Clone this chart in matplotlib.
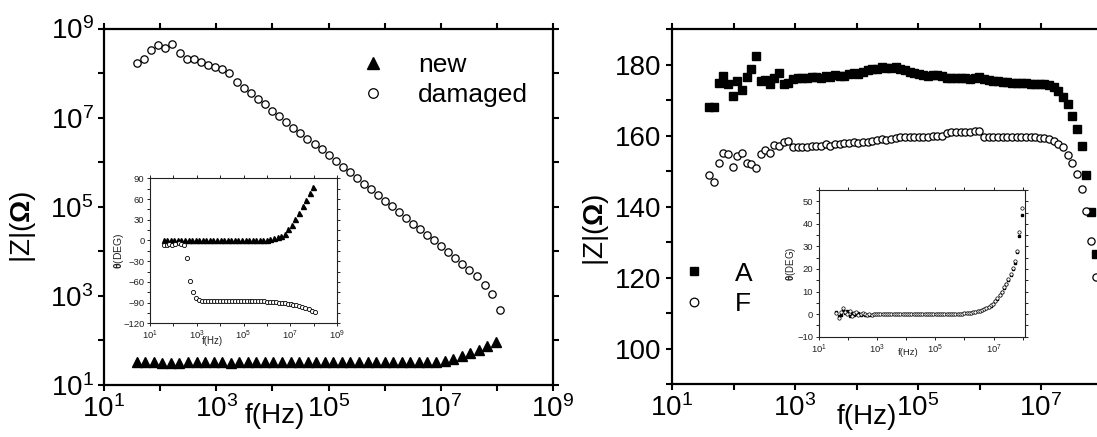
import matplotlib
matplotlib.use("Agg")
import matplotlib.pyplot as plt
from matplotlib.ticker import NullFormatter, FixedLocator, LogFormatterSciNotation

plt.rcParams['font.family'] = ['Liberation Sans', 'DejaVu Sans']
plt.rcParams['mathtext.fontset'] = 'custom'
plt.rcParams['mathtext.rm'] = 'Liberation Sans'
plt.rcParams['mathtext.it'] = 'Liberation Sans:italic'
plt.rcParams['mathtext.bf'] = 'Liberation Sans:bold'

# ---------------- Left panel data ----------------
freq_new = [38, 54, 77, 109, 155, 221, 313, 446, 632, 898,
            1276, 1811, 2570, 3656, 5188, 7379, 10470, 14860, 21130, 29990,
            42660, 60530, 85900, 122200, 173400, 246000, 349900, 496600, 706300, 1.002e6,
            1.422e6, 2.023e6, 2.871e6, 4.074e6, 5.794e6, 8.222e6, 1.169e7, 1.660e7, 2.355e7, 3.350e7,
            4.753e7, 6.745e7, 9.594e7]
z_new = [33.5, 32, 32, 31.5, 31.5, 31.5, 32, 32, 32, 32,
         32, 31.5, 32, 32, 32, 32, 32, 32, 32, 32,
         32, 32, 32, 32, 32, 32, 32, 32, 32, 32,
         32, 32, 32, 32, 32.5, 33, 34.5, 37.7, 44.7, 51,
         61, 75, 94]
phase_new = [0, 0, 0, 0, 0, 0, 0, 0, 0, 0,
             0, 0, 0, 0, 0, 0, 0, 0, 0, 0,
             0, 0, 0, 0, 0, 0, 0.3, 0.5, 0.8, 1.3,
             2.0, 3.0, 4.5, 6.5, 9.5, 16, 23, 31, 40, 50,
             59, 68, 77]

freq_dmg = [38, 51, 68, 91, 121, 166, 222, 296, 395, 527,
            703, 938, 1253, 1720, 2328, 3105, 4142, 5530, 7380, 9840,
            13120, 17530, 23390, 31190, 41600, 57150, 76200, 101800, 135800, 181100,
            241600, 322300, 430500, 574100, 765600, 1.021e6, 1.365e6, 1.820e6, 2.427e6, 3.236e6,
            4.325e6, 5.77e6, 7.69e6, 1.026e7, 1.371e7, 1.828e7, 2.438e7, 3.251e7, 4.335e7, 6.22e7,
            8.30e7, 1.156e8]
z_dmg = [1.64e8, 2.12e8, 3.37e8, 4.23e8, 3.74e8, 4.60e8, 2.84e8, 2.05e8, 2.12e8, 1.78e8,
         1.50e8, 1.38e8, 1.22e8, 1.01e8, 6.34e7, 4.73e7, 3.59e7, 2.59e7, 2.00e7, 1.42e7,
         1.07e7, 8.02e6, 5.98e6, 4.54e6, 3.39e6, 2.53e6, 1.95e6, 1.43e6, 1.07e6, 7.83e5,
         6.04e5, 4.44e5, 3.30e5, 2.47e5, 1.81e5, 1.35e5, 1.02e5, 7.64e4, 5.70e4, 4.18e4,
         3.12e4, 2.29e4, 1.77e4, 1.29e4, 9.66e3, 7.21e3, 5.28e3, 3.87e3, 2.75e3, 1.73e3,
         1.08e3, 473]
phase_dmg = [-6, -6, -5, -6, -5, -4, -5, -6, -25, -59,
             -74, -83, -86, -87, -88, -88, -88, -88, -88, -88,
             -88, -88, -88, -88, -88, -88, -88, -88, -88, -88,
             -88, -88, -88, -88, -88, -88.5, -89, -89, -89.5, -90,
             -90, -91, -92, -92.5, -93, -94, -95, -96, -98, -100,
             -102, -104]

# ---------------- Right panel data ----------------
freq_af = [40.5, 48.2, 57.3, 68.2, 81.3, 96.8, 115, 137, 163, 194,
           231, 275, 327, 390, 464, 553, 658, 783, 933, 1110,
           1321, 1574, 1873, 2230, 2655, 3162, 3758, 4477, 5333, 6339,
           7551, 8995, 10690, 12740, 15170, 18030, 21480, 25590, 30480, 36220,
           43150, 51400, 61090, 72780, 86700, 103300, 122700, 146200, 174200, 207000,
           246600, 293800, 349100, 415900, 495500, 588800, 701500, 835600, 995400, 1.183e6,
           1.409e6, 1.679e6, 1.995e6, 2.377e6, 2.831e6, 3.365e6, 4.009e6, 4.775e6, 5.675e6, 6.761e6,
           8.054e6, 9.572e6, 1.140e7, 1.358e7, 1.614e7, 1.923e7, 2.291e7, 2.729e7, 3.243e7, 3.864e7,
           4.603e7, 5.470e7, 6.516e7, 7.762e7, 9.226e7]
z_a = [168.0, 168.2, 174.8, 176.9, 174.7, 171.2, 175.5, 173.0, 176.6, 178.7,
       182.5, 175.4, 175.7, 174.7, 176.2, 177.6, 174.5, 174.9, 176.0, 176.2,
       176.3, 176.4, 176.5, 176.6, 176.4, 176.9, 176.5, 177.1, 176.8, 176.8,
       177.4, 177.7, 177.4, 178.0, 178.5, 178.7, 178.7, 179.3, 179.0, 179.1,
       179.3, 178.7, 178.5, 178.1, 177.6, 177.4, 177.0, 176.9, 177.0, 177.2,
       176.8, 176.3, 176.2, 176.2, 176.3, 176.2, 176.1, 176.4, 176.6, 175.9,
       175.7, 175.5, 175.3, 175.2, 175.2, 175.0, 174.9, 174.9, 174.9, 174.7,
       174.7, 174.5, 174.5, 174.2, 173.6, 172.6, 171.0, 168.9, 165.5, 161.8,
       157.0, 149.0, 138.5, 126.7]
z_f = [148.9, 147.0, 152.4, 155.2, 154.8, 151.2, 154.3, 155.2, 152.4, 152.0,
       151.0, 154.8, 156.0, 155.1, 157.4, 157.1, 158.2, 158.4, 156.8, 156.8,
       156.8, 156.9, 157.0, 157.1, 157.2, 157.6, 157.2, 157.6, 157.8, 157.9,
       158.0, 158.1, 158.0, 158.1, 158.1, 158.4, 158.7, 159.0, 158.9, 159.2,
       159.4, 159.6, 159.6, 159.6, 159.6, 159.5, 159.6, 159.6, 159.8, 159.8,
       160.0, 160.7, 161.0, 161.0, 161.0, 161.0, 161.0, 161.2, 161.2, 159.5,
       159.5, 159.5, 159.5, 159.5, 159.6, 159.5, 159.5, 159.5, 159.5, 159.5,
       159.5, 159.4, 159.4, 159.2, 158.6, 157.8, 156.9, 154.5, 152.2, 149.3,
       145.1, 138.8, 130.3, 120.1]
phase_a = [1.0, -1.0, -0.5, 2.0, 0.5, 1.5, -1.0, 0.5, -0.5, 0.0,
           0.5, -0.5, 0.0, -0.5, -0.3, -0.2, -0.2, -0.1, 0.0, 0.0,
           0.0, 0.0, 0.0, 0.0, 0.0, 0.0, 0.0, 0.0, 0.0, 0.0,
           0.0, 0.0, 0.0, 0.0, 0.0, 0.0, 0.0, 0.0, 0.0, 0.0,
           0.0, 0.0, 0.0, 0.0, 0.0, 0.0, 0.1, 0.1, 0.1, 0.1,
           0.1, 0.1, 0.1, 0.1, 0.2, 0.2, 0.2, 0.2, 0.3, 0.4,
           0.5, 0.6, 0.8, 1.0, 1.2, 1.5, 1.8, 2.2, 2.6, 3.1,
           3.8, 4.6, 5.6, 6.8, 8.3, 9.8, 11.5, 13.2, 15.0, 17.4,
           20.0, 22.5, 27.5, 34.5, 44.0]
phase_f = [0.5, -1.5, 1.0, 2.5, 1.0, 0.0, 1.5, -1.0, 0.5, 1.0,
           -0.5, 0.0, 0.5, 0.0, -0.5, 0.0, -0.3, -0.1, 0.0, 0.0,
           0.0, 0.0, 0.0, 0.0, 0.0, 0.0, 0.0, 0.0, 0.0, 0.0,
           0.0, 0.0, 0.0, 0.0, 0.0, 0.0, 0.0, 0.0, 0.0, 0.0,
           0.0, 0.0, 0.0, 0.0, 0.0, 0.0, 0.1, 0.1, 0.1, 0.1,
           0.1, 0.1, 0.1, 0.1, 0.2, 0.2, 0.2, 0.2, 0.3, 0.4,
           0.5, 0.7, 0.9, 1.1, 1.3, 1.6, 1.9, 2.3, 2.7, 3.2,
           3.9, 4.7, 5.7, 7.0, 8.5, 10.0, 11.8, 13.5, 15.5, 18.0,
           20.5, 23.5, 28.0, 36.5, 47.0]

assert len(freq_new) == len(z_new) == len(phase_new)
assert len(freq_dmg) == len(z_dmg) == len(phase_dmg)
assert len(z_a) == len(z_f) == 84
assert len(freq_af) == len(phase_a) == len(phase_f) == 85

# tick definitions
odd_decades = [1e1, 1e3, 1e5, 1e7, 1e9]
odd_decades_visible = [1e1, 1e3, 1e5, 1e7]
even_decades = [1e2, 1e4, 1e6, 1e8]

W, H = 1097, 437
fig = plt.figure(figsize=(W / 100, H / 100), dpi=100)


def px_axes(x0, y0, x1, y1):
    return fig.add_axes([x0 / W, 1 - y1 / H, (x1 - x0) / W, (y1 - y0) / H])


def style_main(ax):
    for s in ax.spines.values():
        s.set_linewidth(1.6)
    ax.tick_params(which='both', direction='out', width=1.5, top=True, right=True,
                   labelsize=20, colors='black')
    ax.tick_params(which='major', length=4.5, pad=3)
    ax.tick_params(which='minor', length=4.0)


def style_inset(ax):
    for s in ax.spines.values():
        s.set_linewidth(0.8)
        s.set_color('#222222')
    ax.tick_params(which='both', direction='out', width=0.7, top=True, right=True,
                   labelsize=6.8, colors='#222222', pad=1.5)
    ax.tick_params(which='major', length=2.5)
    ax.tick_params(which='minor', length=2.0)


# ---------------- Left main ----------------
ax1 = px_axes(104, 28.5, 553, 385)
ax1.set_xscale('log')
ax1.set_yscale('log')
ax1.plot(freq_new, z_new, linestyle='none', marker='^', color='black', ms=6.8, label='new')
ax1.plot(freq_dmg, z_dmg, linestyle='none', marker='o', mfc='white', mec='black', mew=0.9,
         ms=5.3, label='damaged')
ax1.set_xlim(1e1, 1e9)
ax1.set_ylim(1e1, 1e9)
for axis in (ax1.xaxis, ax1.yaxis):
    axis.set_major_locator(FixedLocator(odd_decades))
    axis.set_minor_locator(FixedLocator(even_decades))
    axis.set_major_formatter(LogFormatterSciNotation())
    axis.set_minor_formatter(NullFormatter())
style_main(ax1)
ax1.set_xlabel('f(Hz)', fontsize=20)
ax1.xaxis.set_label_coords(0.381, -0.05)
ax1.set_ylabel(r'|Z|($\mathbf{\Omega}$)', fontsize=20)
ax1.yaxis.set_label_coords(-0.146, 0.443)
ax1.legend(loc='upper left', bbox_to_anchor=(0.570, 0.93), frameon=False, fontsize=19,
           handlelength=1.0, handletextpad=1.2, borderpad=0, borderaxespad=0,
           labelspacing=0.22, markerscale=1.3)

# ---------------- Left inset ----------------
ax3 = px_axes(150, 178.3, 337, 323.3)
ax3.set_xscale('log')
ax3.plot(freq_new, phase_new, linestyle='none', marker='^', color='black', ms=3.6)
ax3.plot(freq_dmg, phase_dmg, linestyle='none', marker='o', mfc='white', mec='black',
         mew=0.6, ms=3.0)
ax3.set_xlim(1e1, 1e9)
ax3.set_ylim(-120, 90)
ax3.xaxis.set_major_locator(FixedLocator(odd_decades))
ax3.xaxis.set_minor_locator(FixedLocator(even_decades))
ax3.xaxis.set_major_formatter(LogFormatterSciNotation())
ax3.xaxis.set_minor_formatter(NullFormatter())
ax3.set_yticks([-120, -90, -60, -30, 0, 30, 60, 90])
ax3.set_yticks([-105, -75, -45, -15, 15, 45, 75], minor=True)
style_inset(ax3)
ax3.set_xlabel('f(Hz)', fontsize=7, color='#222222')
ax3.xaxis.set_label_coords(0.335, -0.085)
ax3.set_ylabel(r'$\mathbf{\theta}$(DEG)', fontsize=7.5, color='#222222')
ax3.yaxis.set_label_coords(-0.13, 0.5)

# ---------------- Right main ----------------
ax2 = px_axes(672, 29.3, 1164, 384)
ax2.set_xscale('log')
ax2.plot(freq_af[:len(z_a)], z_a, linestyle='none', marker='s', color='black', ms=5.2, label='A')
ax2.plot(freq_af[:len(z_f)], z_f, linestyle='none', marker='o', mfc='white', mec='black',
         mew=0.9, ms=5.2, label='F')
ax2.set_xlim(1e1, 1e9)
ax2.set_ylim(90, 190)
ax2.xaxis.set_major_locator(FixedLocator(odd_decades_visible))
ax2.xaxis.set_minor_locator(FixedLocator(even_decades))
ax2.xaxis.set_major_formatter(LogFormatterSciNotation())
ax2.xaxis.set_minor_formatter(NullFormatter())
ax2.set_yticks([100, 120, 140, 160, 180])
ax2.set_yticks([90, 110, 130, 150, 170, 190], minor=True)
style_main(ax2)
ax2.set_xlabel('f(Hz)', fontsize=20)
ax2.xaxis.set_label_coords(0.396, -0.055)
ax2.set_ylabel(r'|Z|($\mathbf{\Omega}$)', fontsize=20)
ax2.yaxis.set_label_coords(-0.124, 0.434)
ax2.legend(loc='upper left', bbox_to_anchor=(0.018, 0.345), frameon=False, fontsize=19,
           handlelength=1.0, handletextpad=1.05, borderpad=0, borderaxespad=0,
           labelspacing=0.25, markerscale=1.2)

# ---------------- Right inset ----------------
ax4 = px_axes(818.6, 190, 1025, 336.7)
ax4.set_xscale('log')
ax4.plot(freq_af, phase_a, linestyle='none', marker='s', color='black', ms=2.0)
ax4.plot(freq_af, phase_f, linestyle='none', marker='o', mfc='white', mec='black',
         mew=0.5, ms=2.4)
ax4.set_xlim(1e1, 1.2e8)
ax4.set_ylim(-10, 55)
ax4.xaxis.set_major_locator(FixedLocator(odd_decades_visible))
ax4.xaxis.set_minor_locator(FixedLocator(even_decades))
ax4.xaxis.set_major_formatter(LogFormatterSciNotation())
ax4.xaxis.set_minor_formatter(NullFormatter())
ax4.set_yticks([-10, 0, 10, 20, 30, 40, 50])
ax4.set_yticks([-5, 5, 15, 25, 35, 45, 55], minor=True)
style_inset(ax4)
ax4.set_xlabel('f(Hz)', fontsize=6.8, color='#222222')
ax4.xaxis.set_label_coords(0.436, -0.075)
ax4.set_ylabel(r'$\mathbf{\theta}$(DEG)', fontsize=7, color='#222222')
ax4.yaxis.set_label_coords(-0.1, 0.5)

fig.savefig('out.png', dpi=100)
